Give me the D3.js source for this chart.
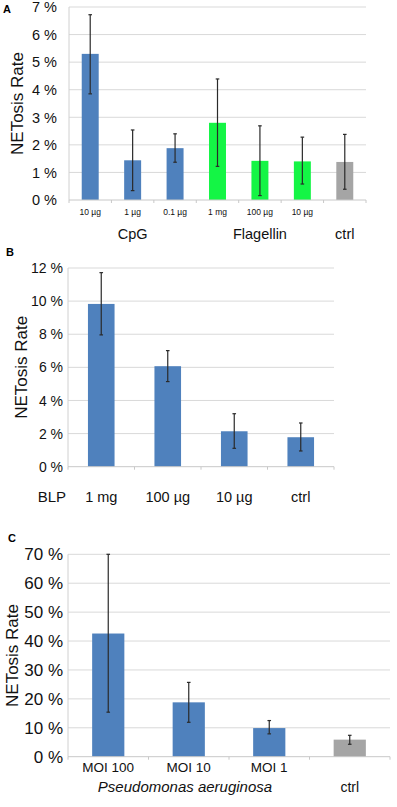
<!DOCTYPE html>
<html>
<head>
<meta charset="utf-8">
<script src="https://cdn.jsdelivr.net/npm/d3@7"></script>
<style>
  body { margin: 0; background: #fff; }
  svg { display: block; font-family: "Liberation Sans", Arial, sans-serif; }
</style>
</head>
<body>
<div id="chart-area"></div>
<script>
// panel A: CpG / Flagellin
var catsA = ["CpG 10", "CpG 1", "CpG 0.1", "Fla 1", "Fla 100", "Fla 10", "ctrl"];
var tickLabelsA = ["10 µg", "1 µg", "0.1 µg", "1 mg", "100 µg", "10 µg", ""];
var valsA = [5.3, 1.44, 1.88, 2.8, 1.42, 1.4, 1.38];
var errLoA = [3.85, 0.34, 1.37, 1.22, 0.16, 0.58, 0.39];
var errHiA = [6.72, 2.54, 2.4, 4.39, 2.69, 2.28, 2.38];
var groupA = ["cpg", "cpg", "cpg", "flag", "flag", "flag", "ctrl"];
var ticksA = [0, 1, 2, 3, 4, 5, 6, 7];

// panel B: BLP
var catsB = ["1 mg", "100 µg", "10 µg", "ctrl"];
var valsB = [9.83, 6.07, 2.14, 1.78];
var errLoB = [7.96, 5.14, 1.11, 0.95];
var errHiB = [11.72, 7.01, 3.2, 2.64];
var ticksB = [0, 2, 4, 6, 8, 10, 12];

// panel C: Pseudomonas aeruginosa
var catsC = ["MOI 100", "MOI 10", "MOI 1", "ctrl"];
var tickLabelsC = ["MOI 100", "MOI 10", "MOI 1", ""];
var valsC = [42.6, 18.8, 9.9, 5.9];
var errLoC = [15.4, 11.9, 7.9, 4.3];
var errHiC = [70, 25.7, 12.5, 7.4];
var groupC = ["pa", "pa", "pa", "ctrl"];
var ticksC = [0, 10, 20, 30, 40, 50, 60, 70];

var colors = { cpg: "#4f81bd", flag: "#14f545", ctrl: "#a5a5a5", blp: "#4f81bd", pa: "#4f81bd" };

var svg = d3.select("#chart-area")
    .append("svg")
    .attr("width", 397)
    .attr("height", 807);

function panel(opt) {
    var g = svg.append("g");

    var x = d3.scaleBand()
        .domain(opt.cats)
        .range([opt.left, opt.right])
        .paddingInner(0.6)
        .paddingOuter(0.3);

    var y = d3.scaleLinear()
        .domain([0, opt.max])
        .range([opt.bottom, opt.top]);

    // gridlines
    g.selectAll(".grid")
        .data(opt.ticks.slice(1))
        .enter()
        .append("line")
        .attr("x1", opt.left)
        .attr("x2", opt.right)
        .attr("y1", d => y(d))
        .attr("y2", d => y(d))
        .attr("stroke", "#d9d9d9")
        .attr("stroke-width", 1);

    // y axis line
    g.append("line")
        .attr("x1", opt.left).attr("x2", opt.left)
        .attr("y1", opt.top).attr("y2", opt.bottom)
        .attr("stroke", "#d0d0d0");

    // y tick labels
    g.selectAll(".ylab")
        .data(opt.ticks)
        .enter()
        .append("text")
        .attr("x", opt.ylabX)
        .attr("y", d => y(d))
        .attr("dy", "0.36em")
        .attr("text-anchor", "end")
        .attr("font-size", opt.yFont)
        .attr("fill", "#111")
        .text(d => d + " %");

    // bars
    g.selectAll(".bar")
        .data(opt.cats)
        .enter()
        .append("rect")
        .attr("x", d => x(d))
        .attr("y", (d, i) => y(opt.vals[i]))
        .attr("width", x.bandwidth())
        .attr("height", (d, i) => opt.bottom - y(opt.vals[i]))
        .attr("fill", (d, i) => colors[opt.groups[i]]);

    // x axis line + ticks between categories
    g.append("line")
        .attr("x1", opt.left).attr("x2", opt.right)
        .attr("y1", opt.bottom).attr("y2", opt.bottom)
        .attr("stroke", "#c8c8c8");
    var tickXs = opt.cats.map(d => x(d) - x.step() * x.paddingInner() / 2);
    tickXs.push(opt.right);
    g.selectAll(".xtick")
        .data(tickXs)
        .enter()
        .append("line")
        .attr("x1", d => d).attr("x2", d => d)
        .attr("y1", opt.bottom).attr("y2", opt.bottom + 3)
        .attr("stroke", "#c8c8c8");

    // error bars
    var eb = g.selectAll(".err")
        .data(opt.cats)
        .enter()
        .append("g")
        .attr("stroke", "#2a2a2a")
        .attr("stroke-width", 1.2);
    var cx = d => x(d) + x.bandwidth() / 2;
    eb.append("line")
        .attr("x1", cx).attr("x2", cx)
        .attr("y1", (d, i) => y(opt.lo[i]))
        .attr("y2", (d, i) => y(opt.hi[i]));
    eb.append("line")
        .attr("x1", d => cx(d) - 1.8).attr("x2", d => cx(d) + 1.8)
        .attr("y1", (d, i) => y(opt.lo[i]))
        .attr("y2", (d, i) => y(opt.lo[i]));
    eb.append("line")
        .attr("x1", d => cx(d) - 1.8).attr("x2", d => cx(d) + 1.8)
        .attr("y1", (d, i) => y(opt.hi[i]))
        .attr("y2", (d, i) => y(opt.hi[i]));

    // category labels
    if (opt.catLabels) {
        g.selectAll(".xlab")
            .data(opt.cats)
            .enter()
            .append("text")
            .attr("x", d => x(d) + x.bandwidth() / 2)
            .attr("y", opt.catLabelY)
            .attr("text-anchor", "middle")
            .attr("font-size", opt.catFont)
            .attr("fill", "#111")
            .text((d, i) => opt.catLabels[i]);
    }

    // y axis title
    g.append("text")
        .attr("transform", "translate(" + opt.titleX + "," + ((opt.top + opt.bottom) / 2) + ") rotate(-90)")
        .attr("text-anchor", "middle")
        .attr("dy", "0.36em")
        .attr("font-size", 17)
        .attr("fill", "#111")
        .text("NETosis Rate");

    // panel letter
    g.append("text")
        .attr("x", opt.letterX)
        .attr("y", opt.letterY)
        .attr("font-size", 11)
        .attr("font-weight", "bold")
        .text(opt.letter);

    return { g: g, x: x };
}

var pA = panel({
    cats: catsA, catLabels: tickLabelsA, vals: valsA, lo: errLoA, hi: errHiA, groups: groupA,
    ticks: ticksA, max: 7, left: 69, right: 366, top: 7, bottom: 200,
    ylabX: 57, yFont: 14.5, catLabelY: 215, catFont: 8.5, titleX: 17,
    letter: "A", letterX: 3, letterY: 13
});
pA.g.selectAll(".grp")
    .data([["CpG", catsA[1]], ["Flagellin", catsA[4]], ["ctrl", catsA[6]]])
    .enter()
    .append("text")
    .attr("x", d => pA.x(d[1]) + pA.x.bandwidth() / 2)
    .attr("y", 239)
    .attr("text-anchor", "middle")
    .attr("font-size", 14.5)
    .attr("fill", "#111")
    .text(d => d[0]);

var pB = panel({
    cats: catsB, catLabels: catsB, vals: valsB, lo: errLoB, hi: errHiB, groups: catsB.map(() => "blp"),
    ticks: ticksB, max: 12, left: 68, right: 334, top: 268, bottom: 466.7,
    ylabX: 63, yFont: 14, catLabelY: 502, catFont: 14.5, titleX: 21,
    letter: "B", letterX: 6, letterY: 256
});
pB.g.append("text")
    .attr("x", 66)
    .attr("y", 502)
    .attr("text-anchor", "end")
    .attr("font-size", 15)
    .attr("fill", "#111")
    .text("BLP");

var pC = panel({
    cats: catsC, catLabels: tickLabelsC, vals: valsC, lo: errLoC, hi: errHiC, groups: groupC,
    ticks: ticksC, max: 70, left: 68, right: 390, top: 554.3, bottom: 756.7,
    ylabX: 63, yFont: 17, catLabelY: 772, catFont: 13.5, titleX: 12,
    letter: "C", letterX: 8, letterY: 542
});
pC.g.append("text")
    .attr("x", 185)
    .attr("y", 792)
    .attr("text-anchor", "middle")
    .attr("font-size", 15)
    .attr("font-style", "italic")
    .attr("fill", "#111")
    .text("Pseudomonas aeruginosa");
pC.g.append("text")
    .attr("x", pC.x("ctrl") + pC.x.bandwidth() / 2)
    .attr("y", 792)
    .attr("text-anchor", "middle")
    .attr("font-size", 14)
    .attr("fill", "#111")
    .text("ctrl");
</script>
</body>
</html>
